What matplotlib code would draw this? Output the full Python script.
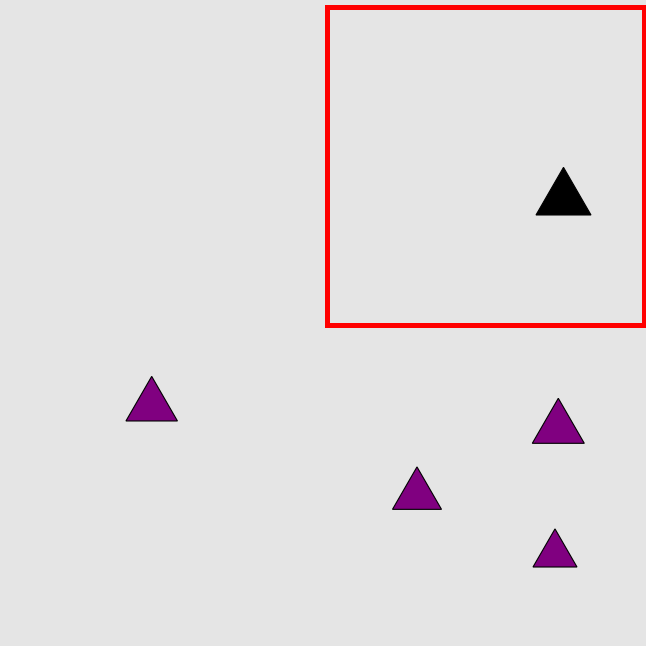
import numpy as np
import matplotlib
matplotlib.use('Agg')
import matplotlib.pyplot as plt
from matplotlib.patches import Polygon, Rectangle

# triangle markers (centroid in pixel space, side length)
tri_x = [563.5, 151.7, 558.3, 417.0, 555.0]
tri_y = [199.1, 406.1, 428.3, 495.2, 554.3]
tri_side = [55.0, 51.5, 52.0, 49.0, 44.0]
tri_color = ['black', 'purple', 'purple', 'purple', 'purple']

# highlight box
box_x0, box_y0, box_x1, box_y1 = 326.5, 6.5, 644.0, 325.0

fig = plt.figure(figsize=(6.46, 6.46), dpi=100)
fig.patch.set_facecolor('#e5e5e5')
ax = fig.add_axes([0, 0, 1, 1])
ax.set_facecolor('#e5e5e5')
ax.set_xlim(0, 646)
ax.set_ylim(646, 0)
ax.axis('off')

for x, y, s, c in zip(tri_x, tri_y, tri_side, tri_color):
    h = s * np.sqrt(3) / 2
    pts = [(x, y - 2 * h / 3), (x - s / 2, y + h / 3), (x + s / 2, y + h / 3)]
    ax.add_patch(Polygon(pts, closed=True, facecolor=c, edgecolor='black', linewidth=0.8))

ax.add_patch(Rectangle((box_x0, box_y0), box_x1 - box_x0, box_y1 - box_y0,
                       fill=False, edgecolor='red', linewidth=3.6, clip_on=False))

plt.savefig('out.png', dpi=100, facecolor=fig.get_facecolor())
